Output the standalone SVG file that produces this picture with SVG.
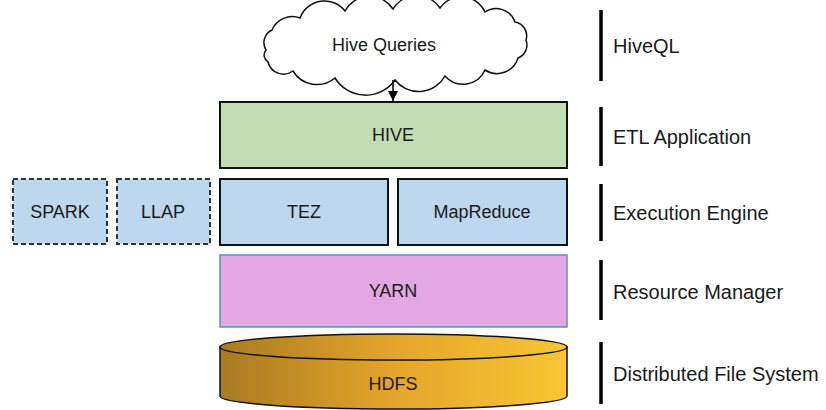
<svg xmlns="http://www.w3.org/2000/svg" width="826" height="410" viewBox="0 0 826 410">
<defs>
<style>
text{font-family:"Liberation Sans",Arial,sans-serif;fill:#1a1a1a;text-anchor:middle;dominant-baseline:central;font-size:18px}
.lbl{text-anchor:start;font-size:20px}
.box{stroke:#111;stroke-width:2}
.blue{fill:#bdd7ee}
.dash{fill:#bdd7ee;stroke:#333;stroke-width:2;stroke-dasharray:5 3}
.bar{stroke:#000;stroke-width:3.5}
</style>
<linearGradient id="gold" x1="0" y1="0" x2="1" y2="0">
<stop offset="0" stop-color="#a87a22"/>
<stop offset="0.5" stop-color="#e5a52b"/>
<stop offset="1" stop-color="#f8c634"/>
</linearGradient>
<marker id="arr" viewBox="0 0 10 10" refX="10" refY="5" markerWidth="10" markerHeight="10" markerUnits="userSpaceOnUse" orient="auto">
<path d="M0,0 L10,5 L0,10 Z" fill="#000"/>
</marker>
</defs>
<rect width="826" height="410" fill="#fff"/>

<g id="cloud">
<path d="M266,50 A14,14 0 0 1 272,30 A22,22 0 0 1 300,18 A26,26 0 0 1 345,11 A28,28 0 0 1 393,9 A28,28 0 0 1 440,8 A26,26 0 0 1 485,12 A20,20 0 0 1 515,22 A14,14 0 0 1 526,40 A14,14 0 0 1 518,58 A22,22 0 0 1 485,70 A24,24 0 0 1 445,76 A30,30 0 0 1 395,80 A36,36 0 0 1 335,78 A28,28 0 0 1 293,71 A16,16 0 0 1 268,62 A8,8 0 0 1 266,50 Z" fill="#fff" stroke="#111" stroke-width="1.5"/>
<text x="384" y="45">Hive Queries</text>
</g>

<g id="connectors">
<line x1="393" y1="80" x2="393" y2="101" stroke="#000" stroke-width="1.5" marker-end="url(#arr)"/>
</g>

<g id="hive">
<rect class="box" x="220" y="102" width="347" height="66" fill="#c3ddb3"/>
<text x="393" y="135">HIVE</text>
</g>
<g id="tez">
<rect class="box blue" x="220" y="179" width="168" height="66"/>
<text x="304" y="212">TEZ</text>
</g>
<g id="mapreduce">
<rect class="box blue" x="398" y="179" width="169" height="66"/>
<text x="482" y="212">MapReduce</text>
</g>
<g id="spark">
<rect class="dash" x="13" y="179" width="94" height="65"/>
<text x="60" y="212">SPARK</text>
</g>
<g id="llap">
<rect class="dash" x="117" y="179" width="93" height="65"/>
<text x="163" y="212">LLAP</text>
</g>
<g id="yarn">
<rect x="220" y="255" width="347" height="72" fill="#e3a7e4" stroke="#5b8fcc" stroke-width="1.5"/>
<text x="393" y="291">YARN</text>
</g>
<g id="hdfs">
<path d="M220,347 L220,396 A173.5,13 0 0 0 567,396 L567,347 Z" fill="url(#gold)" stroke="#111" stroke-width="1.5"/>
<ellipse cx="393.5" cy="347" rx="173.5" ry="13" fill="url(#gold)" stroke="#111" stroke-width="1.5"/>
<text x="393" y="384">HDFS</text>
</g>

<g id="legend">
<line class="bar" x1="601" y1="10" x2="601" y2="81"/>
<text class="lbl" x="613" y="46">HiveQL</text>
<line class="bar" x1="601" y1="107" x2="601" y2="166"/>
<text class="lbl" x="613" y="137">ETL Application</text>
<line class="bar" x1="601" y1="184" x2="601" y2="241"/>
<text class="lbl" x="613" y="213">Execution Engine</text>
<line class="bar" x1="601" y1="260" x2="601" y2="320"/>
<text class="lbl" x="613" y="292">Resource Manager</text>
<line class="bar" x1="601" y1="342" x2="601" y2="404"/>
<text class="lbl" x="613" y="374">Distributed File System</text>
</g>
</svg>
